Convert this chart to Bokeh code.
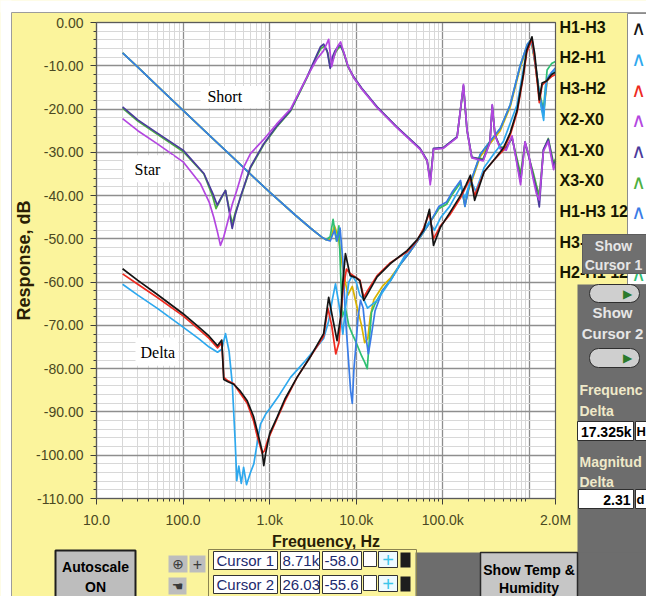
import math
from bokeh.plotting import figure
from bokeh.models import (Range1d, FixedTicker, SingleIntervalTicker, NumeralTickFormatter,
                          BoxAnnotation, Label)
from bokeh.embed import file_html
from bokeh.resources import INLINE

# ---------------- data ----------------
series_names = ["H1-H3", "H2-H1", "H3-H2", "X2-X0", "X1-X0", "X3-X0",
                "H1-H3 12", "H3-H2 12", "H2-H1 12"]
series_colors = ["#141414", "#2ea8ee", "#ee2a1f", "#b347e0", "#4a3b9c", "#4caf3f",
                 "#3a7ce6", "#d9b300", "#2fbf73"]

# Delta connection
h1h3_f = [20, 30, 50, 100, 150, 200, 250, 280, 295, 330, 385, 450, 550, 650, 716, 818, 855, 900,
          1000, 1220, 1500, 2070, 3000, 4200, 4800, 5300, 6000, 6600, 7000, 7500, 8500, 10000,
          11000, 12200, 13500, 17400, 24800, 38600, 50000, 60000, 70000, 78000, 93800, 120000,
          160000, 185000, 208000, 233000, 300000, 400000, 500000, 600000, 720000, 850000, 930000,
          1070000, 1150000, 1250000, 1300000, 1400000, 1580000, 1800000, 2000000]
h1h3_db = [-56.9, -59.6, -62.8, -67.3, -70.3, -72.5, -74.7, -73.4, -82.5, -83.0, -83.6, -85.0,
           -87.4, -91.0, -94.3, -99.0, -102.4, -99.5, -95.0, -91.2, -87.0, -82.0, -77.0, -71.9,
           -63.5, -68.0, -73.5, -68.0, -60.0, -53.4, -58.5, -59.0, -59.7, -64.2, -62.7, -58.8,
           -55.7, -52.7, -50.3, -48.0, -43.2, -51.5, -47.3, -44.0, -40.0, -37.5, -35.3, -41.1,
           -34.5, -31.5, -29.0, -25.5, -20.3, -12.0, -6.4, -3.3, -7.2, -14.1, -17.9, -14.0,
           -13.5, -12.0, -11.5]

h2h1_f = [20, 30, 50, 100, 150, 200, 250, 280, 309, 340, 370, 400, 417, 440, 470, 500, 540, 600,
          656, 720, 783, 900, 1020, 1300, 1740, 2500, 3500, 4200, 4800, 5300, 5760, 6300, 7000,
          7500, 8200, 9000, 10000, 11000, 12200, 13500, 17400, 24800, 38600, 50000, 70000, 80000,
          95000, 120000, 160000, 180000, 210000, 240000, 300000, 400000, 500000, 720000, 930000,
          1070000, 1150000, 1250000, 1350000, 1460000, 1550000, 1700000, 2000000]
h2h1_db = [-60.5, -63.0, -66.0, -70.4, -73.0, -75.0, -76.2, -75.5, -71.9, -76.0, -83.5, -97.0,
           -105.9, -102.5, -106.5, -102.8, -106.8, -104.0, -102.0, -97.0, -92.8, -90.5, -89.0,
           -86.0, -82.0, -78.5, -75.0, -73.0, -69.0, -64.0, -60.4, -65.0, -72.0, -66.0, -60.0,
           -58.5, -60.0, -63.0, -64.0, -66.0, -64.2, -59.7, -53.0, -50.5, -46.0, -48.0, -45.0,
           -42.5, -38.0, -40.5, -36.5, -39.0, -33.5, -30.0, -27.5, -19.0, -6.5, -4.0, -9.0,
           -14.0, -19.0, -22.6, -14.0, -12.5, -11.0]

h3h2_f = [20, 30, 50, 100, 150, 200, 250, 280, 295, 330, 385, 450, 550, 650, 716, 818, 870, 950,
          1000, 1220, 1500, 2070, 3000, 4200, 4700, 5200, 5800, 6300, 7000, 7700, 8500, 10000,
          11000, 12200, 13500, 17400, 24800, 38600, 50000, 60000, 70000, 78000, 93800, 120000,
          160000, 185000, 208000, 233000, 300000, 400000, 500000, 600000, 720000, 850000, 930000,
          1070000, 1150000, 1250000, 1300000, 1400000, 1580000, 1800000, 2000000]
h3h2_db = [-58.1, -60.5, -63.5, -67.8, -70.8, -73.0, -75.2, -74.0, -82.0, -82.8, -83.5, -85.5,
           -88.0, -92.0, -95.5, -99.5, -99.0, -96.5, -95.5, -91.5, -87.5, -82.0, -77.0, -72.5,
           -66.0, -70.0, -76.6, -74.0, -62.0, -57.0, -58.0, -59.0, -59.5, -63.5, -62.0, -58.5,
           -55.5, -53.0, -50.5, -47.5, -44.0, -50.0, -47.0, -44.5, -40.5, -38.0, -36.0, -40.0,
           -34.5, -31.5, -29.5, -26.0, -20.8, -12.5, -7.0, -3.8, -8.5, -15.0, -18.5, -14.5,
           -13.5, -12.5, -12.0]

# Star connection
x2x0_f = [20, 30, 50, 100, 158, 200, 226, 250, 270, 295, 323, 370, 417, 500, 600, 855, 1200, 1740,
          2710, 3500, 4200, 4800, 5200, 5600, 6100, 6600, 7200, 8000, 9300, 11600, 17400, 29400,
          54600, 65800, 71600, 78000, 101000, 146000, 173000, 190000, 216000, 292000, 350000,
          372000, 400000, 460000, 540000, 630000, 710000, 790000, 890000, 980000, 1100000,
          1200000, 1300000, 1450000, 1650000, 1900000, 2000000]
x2x0_db = [-22.2, -25.0, -28.0, -32.2, -37.2, -41.5, -45.0, -48.5, -51.5, -49.5, -46.5, -42.0,
           -38.8, -33.5, -30.3, -27.0, -23.5, -20.0, -12.5, -8.5, -6.5, -3.9, -10.2, -7.5, -5.5,
           -4.5, -7.0, -10.0, -12.7, -15.4, -19.7, -24.3, -29.3, -32.0, -37.5, -29.3, -29.1,
           -26.6, -14.3, -24.9, -31.3, -32.0, -27.8, -19.0, -26.1, -29.2, -29.5, -26.2, -32.2,
           -37.5, -27.6, -30.5, -36.0, -39.5, -41.0, -29.8, -27.5, -34.0, -32.5]

x1x0_f = [20, 30, 50, 100, 174, 220, 248, 275, 309, 340, 369, 400, 460, 600, 855, 1200, 1740, 2710,
          3500, 3860, 4200, 4600, 5000, 5300, 5700, 6200, 6600, 7200, 8000, 9300, 11600, 17400,
          29400, 54600, 65800, 71600, 78000, 101000, 146000, 173000, 190000, 216000, 292000,
          350000, 372000, 400000, 460000, 540000, 630000, 710000, 790000, 890000, 980000,
          1100000, 1200000, 1300000, 1450000, 1650000, 1900000, 2000000]
x1x0_db = [-19.5, -22.5, -25.5, -29.5, -34.9, -39.5, -42.2, -40.5, -38.8, -43.5, -47.6, -44.5,
           -40.3, -33.4, -28.0, -24.0, -20.3, -12.5, -7.5, -5.6, -5.0, -6.5, -10.6, -8.0, -6.5,
           -5.5, -5.3, -7.0, -10.0, -12.5, -15.2, -19.5, -24.1, -29.1, -31.8, -36.8, -29.1,
           -28.9, -26.4, -14.5, -24.7, -31.1, -31.8, -27.6, -19.1, -25.9, -29.0, -29.0, -26.5,
           -31.8, -36.8, -27.6, -30.7, -35.4, -38.5, -42.6, -29.3, -27.0, -33.2, -32.0]

x3x0_f = [20, 30, 50, 100, 174, 218, 240, 270, 309, 340, 369, 400, 460, 600, 855, 1200, 1740, 2710,
          3500, 3900, 4300, 4700, 5000, 5400, 5800, 6300, 6700, 7200, 8000, 9300, 11600, 17400,
          29400, 54600, 65800, 71600, 78000, 101000, 146000, 173000, 190000, 216000, 292000,
          350000, 372000, 400000, 460000, 540000, 630000, 710000, 790000, 890000, 980000,
          1100000, 1200000, 1300000, 1450000, 1650000, 1900000, 2000000]
x3x0_db = [-19.8, -22.8, -25.8, -29.8, -35.0, -40.0, -43.0, -41.0, -38.8, -43.0, -46.5, -44.0,
           -40.5, -33.6, -28.2, -24.2, -20.5, -12.7, -7.8, -6.0, -5.5, -7.0, -10.2, -8.5, -6.8,
           -5.8, -5.6, -7.2, -10.2, -12.7, -15.3, -19.6, -24.2, -29.2, -32.0, -36.5, -29.2,
           -29.0, -26.5, -14.8, -25.0, -31.2, -31.5, -27.5, -19.5, -26.0, -28.8, -28.8, -26.8,
           -31.0, -35.0, -27.8, -31.0, -34.5, -37.5, -40.0, -29.5, -26.8, -32.5, -31.5]

# Short connection: common low-frequency part, then each phase pair
short_low_f = [20, 30, 50, 100, 200, 400, 700, 1000, 2000, 3000, 4000, 4500]
short_low_db = [-7.0, -10.3, -14.6, -20.3, -26.0, -31.7, -36.3, -39.2, -44.6, -47.6, -49.6, -50.2]

h1h3s_f = [5000, 5600, 6000, 6500, 7000, 7500, 8000, 8600, 9000, 9400, 9800, 10500, 11200, 12000,
           13000, 13800, 14800, 16500, 20000, 25000, 32000, 40000, 55000, 72000, 90000, 110000,
           130000, 160000, 180000, 200000, 270000, 350000, 460000, 600000, 780000, 950000,
           1050000, 1150000, 1300000, 1450000, 1600000, 1800000, 2000000]
h1h3s_db = [-50.5, -48.0, -50.5, -47.5, -55.0, -68.0, -76.0, -85.0, -88.0, -80.0, -75.8, -68.0,
            -64.2, -66.0, -73.0, -76.6, -72.8, -66.6, -62.0, -59.5, -56.0, -53.5, -49.5, -46.0,
            -42.5, -41.5, -39.0, -36.5, -42.5, -38.0, -30.5, -27.5, -24.5, -19.0, -10.0, -5.0,
            -4.0, -8.5, -16.5, -21.0, -13.0, -11.5, -10.5]

h3h2s_f = [5000, 5600, 6200, 7000, 8000, 9000, 10000, 11500, 12500, 13600, 14500, 16000, 20000,
           25000, 32000, 40000, 55000, 72000, 90000, 110000, 130000, 160000, 180000, 200000,
           270000, 350000, 460000, 600000, 780000, 950000, 1050000, 1150000, 1300000, 1450000,
           1600000, 1800000, 2000000]
h3h2s_db = [-50.2, -47.0, -49.5, -57.0, -63.0, -61.0, -65.0, -70.0, -74.0, -73.0, -68.0, -64.0,
            -61.0, -59.0, -56.0, -53.5, -49.5, -46.0, -43.0, -42.0, -39.5, -37.0, -42.0, -38.5,
            -31.0, -28.0, -25.0, -19.5, -10.5, -5.5, -4.5, -9.0, -17.0, -21.5, -13.5, -12.0, -11.0]

h2h1s_f = [5000, 5400, 5900, 6300, 6600, 6900, 7500, 8200, 9000, 10000, 11500, 12500, 13400,
           14200, 15000, 16500, 20000, 25000, 32000, 40000, 55000, 72000, 90000, 110000, 130000,
           160000, 180000, 200000, 270000, 350000, 460000, 600000, 780000, 950000, 1050000,
           1150000, 1300000, 1450000, 1600000, 1800000, 2000000]
h2h1s_db = [-49.5, -45.5, -50.5, -47.0, -58.0, -68.0, -66.0, -70.0, -72.0, -74.0, -77.0, -78.5,
            -80.0, -73.0, -67.0, -65.0, -62.0, -59.5, -56.0, -53.5, -49.5, -46.0, -43.0, -42.0,
            -39.5, -37.0, -42.5, -38.0, -30.5, -27.5, -24.5, -19.0, -10.0, -5.0, -4.0, -8.5,
            -16.0, -20.0, -11.0, -9.5, -9.0]

# axis extents and ticks
F_MIN, F_MAX = 10, 2000000
DB_MIN, DB_MAX = -110, 0
x_tick_values = [10, 100, 1000, 10000, 100000, 2000000]
x_tick_labels = ["10.0", "100.0", "1.0k", "10.0k", "100.0k", "2.0M"]
x_grid_values = [10, 100, 1000, 10000, 100000, 1000000]
x_minor_values = [m * 10 ** d for d in range(1, 7) for m in range(2, 10) if m * 10 ** d <= F_MAX]

# in-plot notes: text, frequency, dB (text anchor), box extents
note_text = ["Short", "Star", "Delta"]
note_f = [191, 27.5, 32.2]
note_db = [-17.2, -34.0, -76.3]
note_box_f0 = [159, 20.5, 28.2]
note_box_f1 = [893, 77.4, 88.5]
note_box_db0 = [-14.7, -30.7, -72.8]
note_box_db1 = [-19.8, -36.9, -79.3]

# ---------------- figure: the frame fills the whole canvas ----------------
W, H = 646, 596
PL, PT, PR, PB = 96, 22, 555, 498          # pixel box of the graph area
YELLOW = "#fbf49c"

dec = (PR - PL) / (math.log10(F_MAX) - math.log10(F_MIN))
x_lo = 10 ** (math.log10(F_MIN) - PL / dec)
x_hi = 10 ** (math.log10(F_MAX) + (W - PR) / dec)
pxdb = (PB - PT) / (DB_MAX - DB_MIN)
y_hi = DB_MAX + PT / pxdb
y_lo = DB_MIN - (H - PB) / pxdb

p = figure(width=W, height=H, x_axis_type="log",
           x_range=Range1d(x_lo, x_hi), y_range=Range1d(y_lo, y_hi),
           output_backend="svg", toolbar_location=None,
           min_border_left=0, min_border_right=0, min_border_top=0, min_border_bottom=0)
p.background_fill_color = YELLOW
p.border_fill_color = YELLOW
p.outline_line_color = None

# white graph area (beneath the grid)
p.add_layout(BoxAnnotation(left=F_MIN, right=F_MAX, top=DB_MAX, bottom=DB_MIN,
                           fill_color="white", fill_alpha=1, line_alpha=0, level="image"))

xa = p.xaxis[0]
ya = p.yaxis[0]
xa.ticker = FixedTicker(ticks=x_tick_values, minor_ticks=x_minor_values)
xa.major_label_overrides = {float(v): l for v, l in zip(x_tick_values, x_tick_labels)}
xa.fixed_location = DB_MIN
xa.bounds = (F_MIN, F_MAX)
ya.ticker = SingleIntervalTicker(interval=10, num_minor_ticks=5)
ya.formatter = NumeralTickFormatter(format="0.00")
ya.fixed_location = F_MIN
ya.bounds = (DB_MIN, DB_MAX)
xa.axis_label = "Frequency, Hz"
ya.axis_label = "Response, dB"
for ax in (xa, ya):
    ax.major_label_text_font = "Liberation Sans"
    ax.major_label_text_font_size = "14px"
    ax.major_label_text_color = "#4a4822"
    ax.axis_label_text_font = "Liberation Sans"
    ax.axis_label_text_font_style = "bold"
    ax.axis_label_text_color = "#2a1e05"
    ax.axis_line_color = "#3c3c3c"
    ax.major_tick_line_color = "#3c3c3c"
    ax.minor_tick_line_color = "#3c3c3c"
    ax.major_tick_in = 0
    ax.major_tick_out = 6
    ax.minor_tick_in = 0
    ax.minor_tick_out = 3
    ax.major_label_standoff = 7
xa.axis_label_text_font_size = "16px"
ya.axis_label_text_font_size = "18px"
xa.axis_label_standoff = 2
ya.axis_label_standoff = -1

p.xgrid.ticker = FixedTicker(ticks=x_grid_values, minor_ticks=x_minor_values)
p.xgrid.bounds = (F_MIN, F_MAX)
p.xgrid.cross_bounds = (DB_MIN, DB_MAX)
p.ygrid.bounds = (DB_MIN, DB_MAX)
p.ygrid.cross_bounds = (F_MIN, F_MAX)
for g in (p.xgrid[0], p.ygrid[0]):
    g.grid_line_color = "#8e8e8e"
    g.grid_line_width = 1.3
    g.minor_grid_line_color = "#d8d8d8"
    g.minor_grid_line_width = 1

# ---------------- curves ----------------
curves = {
    "H1-H3": (h1h3_f, h1h3_db),
    "H2-H1": (h2h1_f, h2h1_db),
    "H3-H2": (h3h2_f, h3h2_db),
    "X2-X0": (x2x0_f, x2x0_db),
    "X1-X0": (x1x0_f, x1x0_db),
    "X3-X0": (x3x0_f, x3x0_db),
    "H1-H3 12": (short_low_f + h1h3s_f, short_low_db + h1h3s_db),
    "H3-H2 12": (short_low_f + h3h2s_f, short_low_db + h3h2s_db),
    "H2-H1 12": (short_low_f + h2h1s_f, short_low_db + h2h1s_db),
}
color_of = dict(zip(series_names, series_colors))
draw_order = ["H3-H2 12", "H2-H1 12", "H1-H3 12", "X3-X0", "X1-X0", "X2-X0",
              "H2-H1", "H3-H2", "H1-H3"]
for name in draw_order:
    f, db = curves[name]
    p.line(f, db, line_color=color_of[name], line_width=1.7, line_join="round")

# graph border
p.add_layout(BoxAnnotation(left=F_MIN, right=F_MAX, top=DB_MAX, bottom=DB_MIN,
                           fill_alpha=0, line_color="#5a5a5a", line_alpha=1, line_width=1.2))

# in-plot notes
for t, fx, dy, f0, f1, d0, d1 in zip(note_text, note_f, note_db, note_box_f0, note_box_f1,
                                     note_box_db0, note_box_db1):
    p.add_layout(BoxAnnotation(left=f0, right=f1, top=d0, bottom=d1, fill_color="white",
                               fill_alpha=1, line_alpha=0))
    p.add_layout(Label(x=fx, y=dy, text=t, text_font="Liberation Serif", text_font_size="16px",
                       text_color="black", text_baseline="middle"))


# ---------------- front-panel decoration (pixel positions, top-left origin) ----------------
def sbox(x0, y0, x1, y1, fill=None, line=None, lw=1, radius=0):
    b = BoxAnnotation(left=x0, right=x1, top=H - y0, bottom=H - y1,
                      left_units="screen", right_units="screen",
                      top_units="screen", bottom_units="screen",
                      fill_color=fill, fill_alpha=1 if fill else 0,
                      line_color=line, line_alpha=1 if line else 0, line_width=lw)
    if radius:
        b.border_radius = radius
    p.add_layout(b)


def stext(x, y, t, color="black", size=15, bold=False, align="left", font="Liberation Sans"):
    p.add_layout(Label(x=x, y=H - y, x_units="screen", y_units="screen", text=t,
                       text_color=color, text_font=font, text_font_size=f"{size}px",
                       text_font_style="bold" if bold else "normal",
                       text_align=align, text_baseline="middle"))


# white page margin + panel edge
sbox(-5, -5, 651, 12, fill="white")
sbox(-5, -5, 11, 601, fill="white")
sbox(11, 12, 652, 602, line="#9c9c9c")

# legend
sbox(627, 13, 650, 284, fill="white", line="#8c8c8c")
for i, (name, col) in enumerate(zip(series_names, series_colors)):
    yy = 26.7 + 30.7 * i
    stext(559, yy, name, color="#161600", size=16, bold=True)
    stext(638, yy + 1, "\u2227", color=col, size=20, align="center", font="DejaVu Sans")

# Show Cursor 1 button
sbox(582, 234, 650, 273, fill="#6f6f6f", line="#5c5c5c")
stext(613, 245, "Show", color="#e6e6e6", size=14, bold=True, align="center")
stext(613, 264, "Cursor 1", color="#e6e6e6", size=14, bold=True, align="center")

# right grey panel
sbox(577, 284, 650, 602, fill="#6d6d6d")
sbox(589, 284, 639, 302, fill="#cfcfcf", line="#2e2e2e", radius=9)
stext(627, 293, "\u25b6", color="#2b7a2b", size=12, align="center", font="DejaVu Sans")
stext(612, 312, "Show", color="#e6e6e6", size=15, bold=True, align="center")
stext(612, 333, "Cursor 2", color="#e6e6e6", size=15, bold=True, align="center")
sbox(589, 348, 639, 367, fill="#cfcfcf", line="#2e2e2e", radius=9)
stext(627, 357.5, "\u25b6", color="#2b7a2b", size=12, align="center", font="DejaVu Sans")
stext(579, 389, "Frequenc", color="#efe9c9", size=14, bold=True)
stext(579, 410, "Delta", color="#efe9c9", size=14, bold=True)
sbox(577, 421, 633, 440, fill="white", line="#2e2e2e")
stext(631, 431, "17.325k", size=14, bold=True, align="right")
sbox(635, 421, 650, 440, fill="white", line="#2e2e2e")
stext(636, 431, "H", size=13, bold=True)
stext(579, 461, "Magnitud", color="#efe9c9", size=14, bold=True)
stext(579, 481, "Delta", color="#efe9c9", size=14, bold=True)
sbox(578, 489, 633, 508, fill="white", line="#2e2e2e")
stext(630, 499, "2.31", size=14, bold=True, align="right")
sbox(635, 489, 650, 508, fill="white", line="#2e2e2e")
stext(636, 499, "d", size=13, bold=True)

# bottom controls
sbox(415, 552, 650, 602, fill="#6d6d6d")
sbox(480, 552, 577, 602, fill="#c6c6c6", line="#2a2a2a", lw=1.5)
stext(528.5, 569, "Show Temp &", size=14, bold=True, align="center")
stext(528.5, 587, "Humidity", size=14, bold=True, align="center")

sbox(55, 550, 135, 602, fill="#bdbdbd", line="#1e1e1e", lw=2)
stext(95, 566, "Autoscale", size=14, bold=True, align="center")
stext(95, 586, "ON", size=14, bold=True, align="center")

sbox(168, 555, 187, 572, fill="#bdbdbd")
stext(177.5, 563.5, "\u2295", color="#3a3a3a", size=14, align="center", font="DejaVu Sans")
sbox(189, 555, 205, 572, fill="#bdbdbd")
stext(197, 563.5, "+", color="#3a3a3a", size=16, align="center")
sbox(168, 577, 186, 594, fill="#bdbdbd")
stext(177, 585.5, "\u261a", color="#3a3a3a", size=13, align="center", font="DejaVu Sans")

sbox(208, 549, 416, 602, line="#8a8350")
for row, (cname, cf, cdb) in enumerate([("Cursor 1", "8.71k", "-58.0"),
                                         ("Cursor 2", "26.03", "-55.6")]):
    y0 = 551 + 24 * row
    y1 = y0 + 18
    ym = (y0 + y1) / 2
    sbox(213, y0, 277, y1, fill="white", line="#333333")
    stext(216, ym, cname, color="#1c2a6e", size=15)
    sbox(280, y0, 319, y1, fill="white", line="#333333")
    stext(282, ym, cf, color="#1c2a6e", size=15)
    sbox(322, y0, 361, y1, fill="white", line="#333333")
    stext(324, ym, cdb, color="#1c2a6e", size=15)
    sbox(363, y0, 376, y1 - 3, fill="white", line="#333333")
    sbox(378, y0, 397, y1 - 2, fill="#eefaff", line="#333333")
    stext(387.5, ym - 1, "+", color="#3cc6ea", size=20, align="center")
    sbox(400, y0 + 1, 410, y1 - 2, fill="#1e1e1e")

open("out.html", "w").write(file_html(p, INLINE))
